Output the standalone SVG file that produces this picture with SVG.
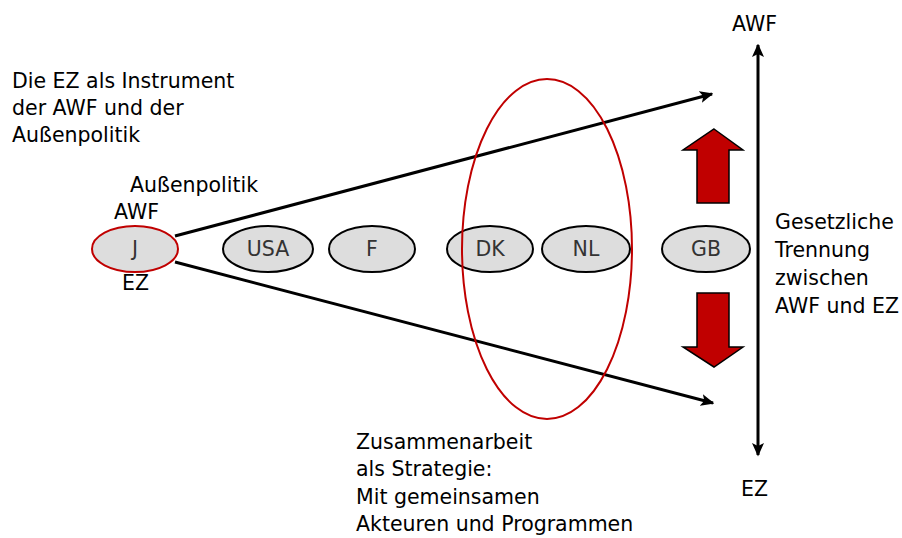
<svg xmlns="http://www.w3.org/2000/svg" width="902" height="538" viewBox="0 0 902 538">
<style>
text{font-family:"DejaVu Sans",sans-serif;font-size:20.5px;fill:#000}
.node{fill:#ddd;stroke:#000;stroke-width:2}
.lbl{fill:#333;text-anchor:middle}
.conn{stroke:#000;stroke-width:3;fill:none}
.big{fill:#c00000;stroke:#000;stroke-width:1.5}
</style>
<defs>
<marker id="ah" markerWidth="4.5" markerHeight="4" refX="4" refY="2" orient="auto-start-reverse" markerUnits="strokeWidth">
<path d="M0,0 L4.5,2 L0,4 L1,2 z" fill="#000"/>
</marker>
</defs>
<rect width="902" height="538" fill="#fff"/>
<g id="connectors">
<line class="conn" x1="175" y1="236" x2="712" y2="94" marker-end="url(#ah)"/>
<line class="conn" x1="175" y1="262" x2="713" y2="403" marker-end="url(#ah)"/>
<line class="conn" x1="758" y1="455" x2="758" y2="45" marker-end="url(#ah)" marker-start="url(#ah)"/>
</g>
<g id="node-J"><ellipse cx="135" cy="249" rx="43" ry="23" fill="#ddd" stroke="#c00000" stroke-width="2"/><text class="lbl" x="135" y="256">J</text></g>
<g id="node-USA"><ellipse class="node" cx="268" cy="249" rx="45" ry="23"/><text class="lbl" x="268" y="256">USA</text></g>
<g id="node-F"><ellipse class="node" cx="372" cy="249" rx="43" ry="23"/><text class="lbl" x="372" y="256">F</text></g>
<g id="node-DK"><ellipse class="node" cx="490" cy="249" rx="43" ry="23"/><text class="lbl" x="490" y="256">DK</text></g>
<g id="node-NL"><ellipse class="node" cx="586" cy="249" rx="44" ry="23"/><text class="lbl" x="586" y="256">NL</text></g>
<g id="node-GB"><ellipse class="node" cx="706" cy="249" rx="44" ry="23"/><text class="lbl" x="706" y="256">GB</text></g>
<g id="cluster"><ellipse cx="547" cy="249" rx="85" ry="170" fill="none" stroke="#c00000" stroke-width="2"/></g>
<g id="arrow-up"><path class="big" d="M714,129 L743,150 L729,150 L729,203 L697,203 L697,150 L683,150 Z"/></g>
<g id="arrow-down"><path class="big" d="M697,293 L729,293 L729,347 L743,347 L714,367 L683,347 L697,347 Z"/></g>
<g id="texts">
<text x="732" y="31">AWF</text>
<text x="741" y="496">EZ</text>
<text x="12" y="88">Die EZ als Instrument</text>
<text x="12" y="115">der AWF und der</text>
<text x="12" y="142">Außenpolitik</text>
<text x="130" y="192">Außenpolitik</text>
<text x="114" y="219">AWF</text>
<text x="122" y="290">EZ</text>
<text x="775" y="229">Gesetzliche</text>
<text x="775" y="257">Trennung</text>
<text x="775" y="285">zwischen</text>
<text x="775" y="313">AWF und EZ</text>
<text x="356" y="449">Zusammenarbeit</text>
<text x="356" y="476">als Strategie:</text>
<text x="356" y="504">Mit gemeinsamen</text>
<text x="356" y="531">Akteuren und Programmen</text>
</g>
</svg>
